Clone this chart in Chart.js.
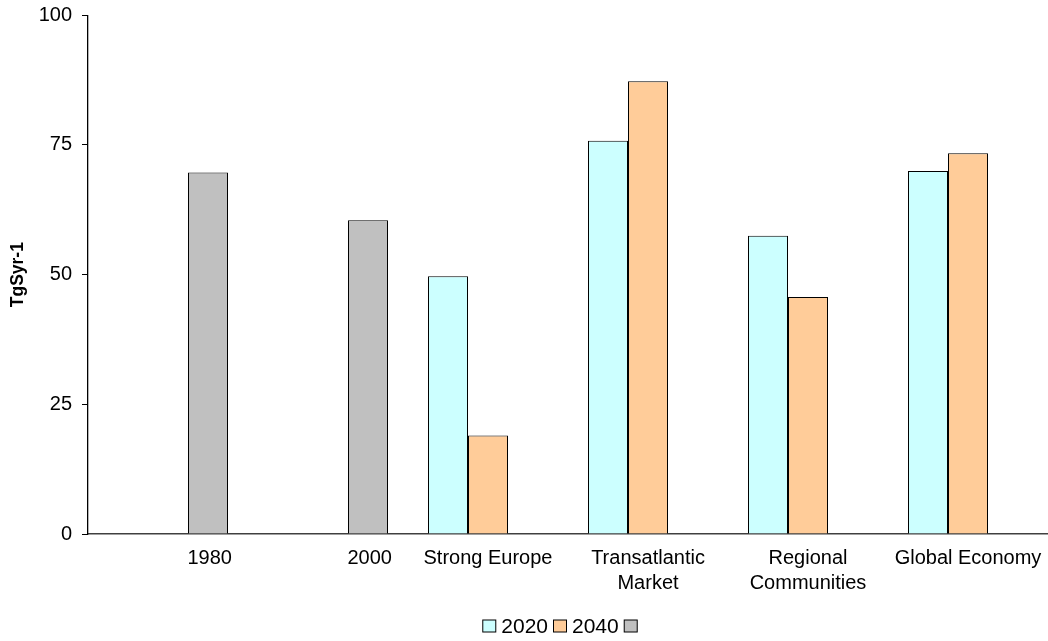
<!DOCTYPE html>
<html>
<head>
<meta charset="utf-8">
<script src="https://cdn.jsdelivr.net/npm/chart.js@4/dist/chart.umd.min.js"></script>
<style>
  html, body { margin: 0; padding: 0; background: #ffffff; }
  #wrap { width: 1048px; height: 641px; position: relative; }
</style>
</head>
<body>
<div id="wrap"><canvas id="chart"></canvas></div>
<script>
// Scenario categories (multi-line labels given as arrays)
const categories = ['1980', '2000', 'Strong Europe', ['Transatlantic', 'Market'], ['Regional', 'Communities'], 'Global Economy'];

// Emissions per scenario, TgS yr-1
const values2020 = [null, null, 49.7, 75.8, 57.5, 70.0];
const values2040 = [null, null, 19.0, 87.3, 45.7, 73.4];
const historic   = [69.7, 60.5, null, null, null, null];

const seriesNames = ['2020', '2040', ''];
const yTicks = [0, 25, 50, 75, 100];

const FONT = 'Arial, "Liberation Sans", Helvetica, sans-serif';

// Compact key under the plot: small swatch, short gap, label
const seriesKey = {
  id: 'seriesKey',
  afterDraw(chart, args, opts) {
    const c = chart.ctx;
    c.save();
    c.font = opts.fontSize + 'px ' + FONT;
    c.textBaseline = 'middle';
    c.textAlign = 'left';
    const items = chart.data.datasets.map(ds => ({ text: ds.label, fill: ds.backgroundColor }));
    const widths = items.map(it => opts.box + (it.text ? opts.gap + c.measureText(it.text).width : 0));
    const total = widths.reduce((a, b) => a + b, 0) + opts.spacing * (items.length - 1);
    let x = opts.centerX - total / 2;
    const y = opts.centerY;
    items.forEach((it, i) => {
      c.fillStyle = it.fill;
      c.fillRect(x + 0.5, y - opts.boxH / 2 + 0.5, opts.box - 1, opts.boxH - 1);
      c.strokeStyle = '#000000';
      c.lineWidth = 1;
      c.strokeRect(x + 0.5, y - opts.boxH / 2 + 0.5, opts.box - 1, opts.boxH - 1);
      if (it.text) {
        c.fillStyle = '#000000';
        c.fillText(it.text, x + opts.box + opts.gap, y + 1);
      }
      x += widths[i] + opts.spacing;
    });
    c.restore();
  }
};

const ctx = document.getElementById('chart');
new Chart(ctx, {
  type: 'bar',
  plugins: [seriesKey],
  data: {
    labels: categories,
    datasets: [
      { label: seriesNames[0], data: values2020, backgroundColor: '#CCFFFF', borderColor: '#000000', borderWidth: 1 },
      { label: seriesNames[1], data: values2040, backgroundColor: '#FFCC99', borderColor: '#000000', borderWidth: 1 },
      { label: seriesNames[2], data: historic,   backgroundColor: '#C0C0C0', borderColor: '#000000', borderWidth: 1 }
    ]
  },
  options: {
    responsive: true,
    maintainAspectRatio: false,
    animation: false,
    devicePixelRatio: 1,
    layout: { padding: { top: 15.3, right: 0, bottom: 27, left: 0 } },
    datasets: {
      bar: { categoryPercentage: 0.75, barPercentage: 1.0, borderSkipped: 'start' }
    },
    plugins: {
      tooltip: { enabled: false },
      legend: { display: false },
      seriesKey: { centerX: 560, centerY: 626, fontSize: 21, box: 14, boxH: 13, gap: 5, spacing: 5 }
    },
    scales: {
      x: {
        afterFit: function (scale) {
          scale.height = 80;
          scale.paddingLeft = 0;
          scale.paddingRight = 0;
        },
        grid: { display: false, drawTicks: false },
        border: { display: true, color: '#404040', width: 1.5 },
        ticks: {
          color: '#000000',
          font: { family: FONT, size: 20, lineHeight: 1.25 },
          padding: 12,
          maxRotation: 0,
          autoSkip: false,
          callback: function (value, index) {
            const lbl = categories[index];
            // years with only the historic bar: shift the text under that bar
            if (historic[index] !== null && values2020[index] === null) {
              return ' '.repeat(15) + lbl;
            }
            return lbl;
          }
        }
      },
      y: {
        min: 0,
        max: 100,
        afterBuildTicks: function (scale) {
          scale.ticks = yTicks.map(v => ({ value: v }));
        },
        afterFit: function (scale) {
          scale.width = 88;
          scale.paddingTop = 0;
          scale.paddingBottom = 0;
        },
        grid: { drawOnChartArea: false, drawTicks: true, tickLength: 6, color: '#000000' },
        border: { display: true, color: '#000000', width: 1.3 },
        ticks: {
          color: '#000000',
          font: { family: FONT, size: 20 },
          padding: 10
        },
        title: {
          display: true,
          text: 'TgSyr-1',
          color: '#000000',
          font: { family: FONT, size: 17.5, weight: 'bold' },
          padding: { top: 7.5, bottom: 0 }
        }
      }
    }
  }
});
</script>
</body>
</html>
